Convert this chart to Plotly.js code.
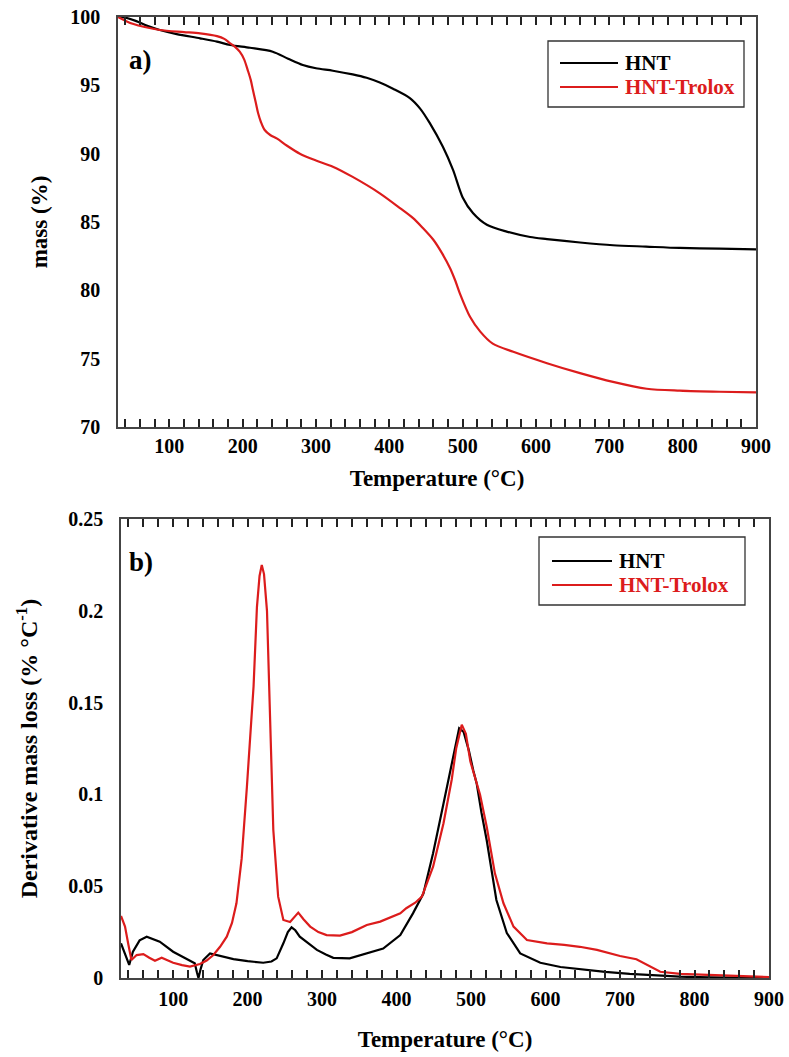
<!DOCTYPE html>
<html>
<head>
<meta charset="utf-8">
<script src="https://cdn.plot.ly/plotly-3.0.1.min.js"></script>
<style>html,body{margin:0;padding:0;background:#fff;}#chart{width:789px;height:1057px;}</style>
</head>
<body>
<div id="chart"></div>
<script>
// ---- Data: TGA (mass %) ----
const tgaHNT_T = [30, 40, 55, 70, 87, 110, 142, 165, 183, 210, 241, 262, 282, 300, 323, 350, 369, 387, 405, 428, 442, 455, 473, 487, 500, 514, 533, 560, 592, 615, 660, 705, 750, 796, 850, 900];
const tgaHNT_mass = [100, 99.95, 99.7, 99.35, 99.05, 98.75, 98.44, 98.2, 97.95, 97.75, 97.46, 96.95, 96.49, 96.25, 96.07, 95.8, 95.55, 95.2, 94.75, 94.07, 93.3, 92.25, 90.5, 88.8, 86.8, 85.66, 84.8, 84.3, 83.9, 83.75, 83.5, 83.3, 83.2, 83.1, 83.05, 83.0];

const tgaTrolox_T = [30, 50, 87, 120, 142, 165, 175, 183, 190, 196, 202, 207, 211, 214, 218, 221, 225, 230, 238, 247, 260, 278, 300, 323, 350, 387, 415, 432, 445, 460, 472, 483, 490, 496, 510, 524, 541, 569, 615, 660, 705, 751, 796, 850, 900];
const tgaTrolox_mass = [100, 99.5, 99.05, 98.9, 98.8, 98.6, 98.4, 98.07, 97.8, 97.46, 96.9, 96.1, 95.4, 94.66, 93.7, 92.97, 92.3, 91.73, 91.35, 91.1, 90.6, 90.0, 89.5, 89.05, 88.3, 87.1, 86.0, 85.3, 84.6, 83.7, 82.7, 81.6, 80.7, 79.8, 78.07, 76.98, 76.1, 75.5, 74.67, 73.94, 73.3, 72.8, 72.66, 72.58, 72.54];

// ---- Data: DTG (derivative mass loss, % / °C) ----
const dtgHNT_T = [30, 35, 41, 46, 55, 64.5, 82, 100, 115, 123, 129, 132, 134, 137, 140.5, 149.5, 165, 181, 200, 221, 232, 239, 248, 254, 259, 264, 270, 282, 293, 305, 315, 337, 360, 382, 405, 422, 436, 449, 463, 472, 478, 484, 490, 497, 503, 507.5, 514, 521, 534, 548, 566, 593, 620, 646, 680, 713, 750, 780, 820, 860, 900];
const dtgHNT_val = [0.0189, 0.013, 0.0071, 0.0143, 0.0205, 0.0225, 0.0198, 0.0143, 0.011, 0.0094, 0.008, 0.003, 0.0, 0.005, 0.0098, 0.0134, 0.012, 0.0103, 0.0092, 0.0083, 0.009, 0.0107, 0.0189, 0.025, 0.0276, 0.026, 0.0225, 0.0185, 0.0153, 0.0128, 0.011, 0.0107, 0.0135, 0.016, 0.0234, 0.0352, 0.046, 0.068, 0.095, 0.113, 0.125, 0.136, 0.134, 0.124, 0.113, 0.106, 0.09, 0.075, 0.0425, 0.0245, 0.0134, 0.0083, 0.006, 0.0047, 0.0033, 0.0022, 0.0012, 0.0007, 0.0003, 0.0001, 0.0];

const dtgTrolox_T = [30, 35.4, 40, 44, 51, 60, 68, 75.6, 84.6, 92, 100, 112, 122.6, 136, 145, 154, 163, 172, 179, 185, 192, 199, 203, 208, 212.5, 216, 219, 222, 226, 230, 234.5, 241, 248, 257, 262, 268, 275, 284, 295, 306, 324, 340, 360, 378, 405, 413, 425, 434, 449, 463, 474, 480, 487.5, 493, 499, 506, 512, 521, 532, 543.5, 557, 575, 602, 625, 646, 669, 700, 722, 736, 754, 781, 826, 870, 900];
const dtgTrolox_val = [0.0338, 0.028, 0.018, 0.0098, 0.0125, 0.013, 0.011, 0.0094, 0.011, 0.0095, 0.0083, 0.007, 0.0062, 0.0076, 0.0095, 0.0125, 0.017, 0.0225, 0.03, 0.0407, 0.065, 0.104, 0.126, 0.159, 0.202, 0.219, 0.225, 0.22, 0.2, 0.14, 0.0806, 0.0443, 0.0316, 0.0305, 0.033, 0.0356, 0.032, 0.028, 0.025, 0.0234, 0.0231, 0.025, 0.0289, 0.0307, 0.0352, 0.038, 0.041, 0.0443, 0.0606, 0.0843, 0.108, 0.125, 0.138, 0.133, 0.118, 0.108, 0.1, 0.0824, 0.057, 0.0407, 0.028, 0.0207, 0.0189, 0.018, 0.017, 0.0153, 0.012, 0.0102, 0.0071, 0.0034, 0.0022, 0.0016, 0.0007, 0.0005];

const seriesNames = ['HNT', 'HNT-Trolox'];

// x tick positions every 20 °C; labels only at the hundreds
const xTickVals = [], xTickText = [];
for (let v = 40; v <= 900; v += 20) { xTickVals.push(v); xTickText.push(v % 100 === 0 ? String(v) : ''); }

// ---- Styling ----
const W = 789, H = 1057;
const BLACK = '#000000', RED = '#dc1c1c';
const FONT = 'Liberation Serif, Times New Roman, serif';
const AXC = '#444444';

const traces = [
  {x: tgaHNT_T, y: tgaHNT_mass, xaxis: 'x', yaxis: 'y', name: seriesNames[0], mode: 'lines', line: {color: BLACK, width: 2.2, shape: 'spline', smoothing: 0.8}, showlegend: false},
  {x: tgaTrolox_T, y: tgaTrolox_mass, xaxis: 'x', yaxis: 'y', name: seriesNames[1], mode: 'lines', line: {color: RED, width: 2.2, shape: 'spline', smoothing: 0.8}, showlegend: false},
  {x: dtgHNT_T, y: dtgHNT_val, xaxis: 'x2', yaxis: 'y2', name: seriesNames[0], mode: 'lines', line: {color: BLACK, width: 2.2}, showlegend: false},
  {x: dtgTrolox_T, y: dtgTrolox_val, xaxis: 'x2', yaxis: 'y2', name: seriesNames[1], mode: 'lines', line: {color: RED, width: 2.2}, showlegend: false}
];

function px(x) { return x / W; }
function py(y) { return 1 - y / H; }

const tickFont = {family: FONT, size: 20, color: '#000', weight: 'bold'};
const titleFont = {family: FONT, size: 23, color: '#000', weight: 'bold'};

function xAxis(domain, anchor, lblStandoff, titleStandoff) {
  return {
    domain: domain, anchor: anchor, range: [30, 900], autorange: false,
    tickmode: 'array', tickvals: xTickVals, ticktext: xTickText,
    ticks: 'inside', ticklen: 8, tickwidth: 1.5, tickcolor: '#222',
    ticklabelstandoff: lblStandoff,
    showline: true, linecolor: AXC, linewidth: 1.5, mirror: 'allticks',
    showgrid: false, zeroline: false, tickfont: tickFont,
    title: {text: 'Temperature (°C)', font: titleFont, standoff: titleStandoff}
  };
}

const legendShapes = [
  {type: 'rect', xref: 'paper', yref: 'paper', x0: px(548), x1: px(744), y0: py(107), y1: py(41), line: {color: '#333', width: 1.3}, fillcolor: 'rgba(0,0,0,0)'},
  {type: 'line', xref: 'paper', yref: 'paper', x0: px(560), x1: px(618), y0: py(63), y1: py(63), line: {color: BLACK, width: 2.2}},
  {type: 'line', xref: 'paper', yref: 'paper', x0: px(560), x1: px(618), y0: py(87), y1: py(87), line: {color: RED, width: 2.2}},
  {type: 'rect', xref: 'paper', yref: 'paper', x0: px(539), x1: px(745), y0: py(605), y1: py(537), line: {color: '#333', width: 1.3}, fillcolor: 'rgba(0,0,0,0)'},
  {type: 'line', xref: 'paper', yref: 'paper', x0: px(552), x1: px(612), y0: py(561), y1: py(561), line: {color: BLACK, width: 2.2}},
  {type: 'line', xref: 'paper', yref: 'paper', x0: px(552), x1: px(612), y0: py(585), y1: py(585), line: {color: RED, width: 2.2}}
];

const layout = {
  width: W, height: H,
  margin: {l: 0, r: 0, t: 0, b: 0},
  paper_bgcolor: '#fff', plot_bgcolor: 'rgba(0,0,0,0)',
  showlegend: false,
  xaxis: xAxis([px(118), px(756)], 'y', 0, 14),
  yaxis: {
    domain: [py(427), py(17)], anchor: 'x', range: [70, 100], dtick: 5, ticks: '',
    ticklabelstandoff: 12,
    showline: true, linecolor: AXC, linewidth: 1.5, mirror: true,
    showgrid: false, zeroline: false, tickfont: tickFont,
    title: {text: 'mass (%)', font: titleFont, standoff: 16}
  },
  xaxis2: xAxis([px(121), px(769)], 'y2', 2, 22),
  yaxis2: {
    domain: [py(978), py(519)], anchor: 'x2', range: [0, 0.25], dtick: 0.05, ticks: '',
    ticklabelstandoff: 12,
    showline: true, linecolor: AXC, linewidth: 1.5, mirror: true,
    showgrid: false, zeroline: false, tickfont: tickFont,
    title: {text: 'Derivative mass loss (% °C<sup>-1</sup>)', font: {family: FONT, size: 24, color: '#000', weight: 'bold'}, standoff: 24}
  },
  shapes: legendShapes,
  annotations: [
    {text: 'a)', xref: 'paper', yref: 'paper', x: px(127), y: py(60), xanchor: 'left', yanchor: 'middle', showarrow: false, font: {family: FONT, size: 27, color: '#000', weight: 'bold'}},
    {text: 'b)', xref: 'paper', yref: 'paper', x: px(127), y: py(562), xanchor: 'left', yanchor: 'middle', showarrow: false, font: {family: FONT, size: 27, color: '#000', weight: 'bold'}},
    {text: seriesNames[0], xref: 'paper', yref: 'paper', x: px(623), y: py(63), xanchor: 'left', yanchor: 'middle', showarrow: false, font: {family: FONT, size: 21, color: BLACK, weight: 'bold'}},
    {text: seriesNames[1], xref: 'paper', yref: 'paper', x: px(623), y: py(87), xanchor: 'left', yanchor: 'middle', showarrow: false, font: {family: FONT, size: 21, color: RED, weight: 'bold'}},
    {text: seriesNames[0], xref: 'paper', yref: 'paper', x: px(617), y: py(561), xanchor: 'left', yanchor: 'middle', showarrow: false, font: {family: FONT, size: 21, color: BLACK, weight: 'bold'}},
    {text: seriesNames[1], xref: 'paper', yref: 'paper', x: px(617), y: py(585), xanchor: 'left', yanchor: 'middle', showarrow: false, font: {family: FONT, size: 21, color: RED, weight: 'bold'}}
  ]
};

Plotly.newPlot('chart', traces, layout, {displayModeBar: false});
</script>
</body>
</html>
